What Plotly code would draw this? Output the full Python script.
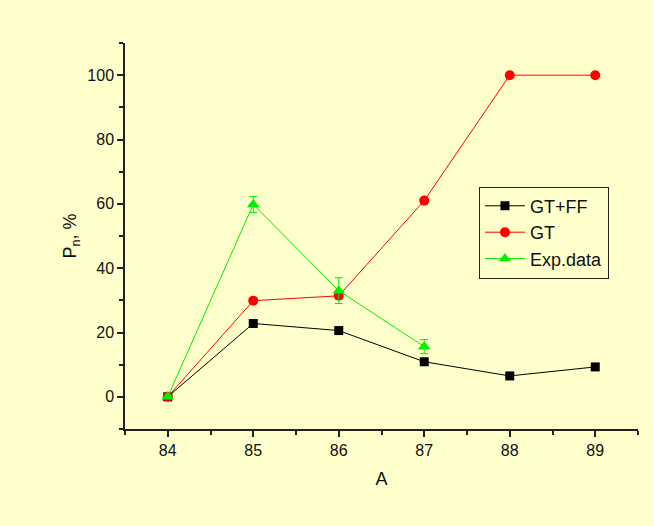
import plotly.graph_objects as go

# Mass number A
a_values = [84, 85, 86, 87, 88, 89]
a_exp = [84, 85, 86, 87]

# Neutron emission probability, %
gt_ff = [0, 22.8, 20.6, 10.9, 6.5, 9.3]
gt = [0, 29.9, 31.4, 61, 100, 100]
exp_data = [0, 59.8, 33.0, 15.6]
exp_err = [0.5, 2.5, 4.0, 2.2]

bg = "#FFFFCC"
family = "Liberation Sans, Arial, sans-serif"

fig = go.Figure()
fig.add_trace(go.Scatter(
    x=a_values, y=gt_ff, name="GT+FF", mode="lines+markers",
    line=dict(color="black", width=1),
    marker=dict(symbol="square", size=9, color="black"),
))
fig.add_trace(go.Scatter(
    x=a_values, y=gt, name="GT", mode="lines+markers",
    line=dict(color="#FF0000", width=1),
    marker=dict(symbol="circle", size=10, color="#FF0000"),
))
fig.add_trace(go.Scatter(
    x=a_exp, y=exp_data, name="Exp.data", mode="lines+markers",
    line=dict(color="#00EE00", width=1),
    marker=dict(symbol="triangle-up", size=11, color="#00EE00"),
    error_y=dict(type="data", array=exp_err, visible=True,
                 color="#00EE00", thickness=1, width=4),
))

fig.update_layout(
    width=654, height=526,
    paper_bgcolor=bg, plot_bgcolor=bg,
    margin=dict(l=125, r=16, t=43, b=97),
    font=dict(family=family, size=15, color="#111"),
    showlegend=True,
    legend=dict(
        x=0.69, y=0.628, xanchor="left", yanchor="top",
        bgcolor=bg, bordercolor="#222", borderwidth=1,
        font=dict(family=family, size=18, color="#111"),
        tracegroupgap=0, itemwidth=40,
    ),
    xaxis=dict(
        title=dict(text="A", font=dict(size=18), standoff=14),
        tickfont=dict(size=16),
        range=[83.5, 89.5], tickmode="linear", tick0=84, dtick=1,
        showgrid=False, zeroline=False,
        showline=True, linecolor="#222", linewidth=1.5,
        ticks="outside", ticklen=6, tickwidth=1.5, tickcolor="#222",
        minor=dict(ticks="outside", ticklen=4, tickwidth=1.5, tickcolor="#222",
                   dtick=0.5, tick0=83.5, showgrid=False),
    ),
    yaxis=dict(
        title=dict(text="P<sub>n</sub>, %", font=dict(size=18), standoff=6),
        tickfont=dict(size=16),
        range=[-10, 110], tickmode="linear", tick0=0, dtick=20,
        showgrid=False, zeroline=False,
        showline=True, linecolor="#222", linewidth=1.5,
        ticks="outside", ticklen=6, tickwidth=1.5, tickcolor="#222",
        minor=dict(ticks="outside", ticklen=4, tickwidth=1.5, tickcolor="#222",
                   dtick=10, tick0=-10, showgrid=False),
    ),
)

fig.write_html("out.html")
